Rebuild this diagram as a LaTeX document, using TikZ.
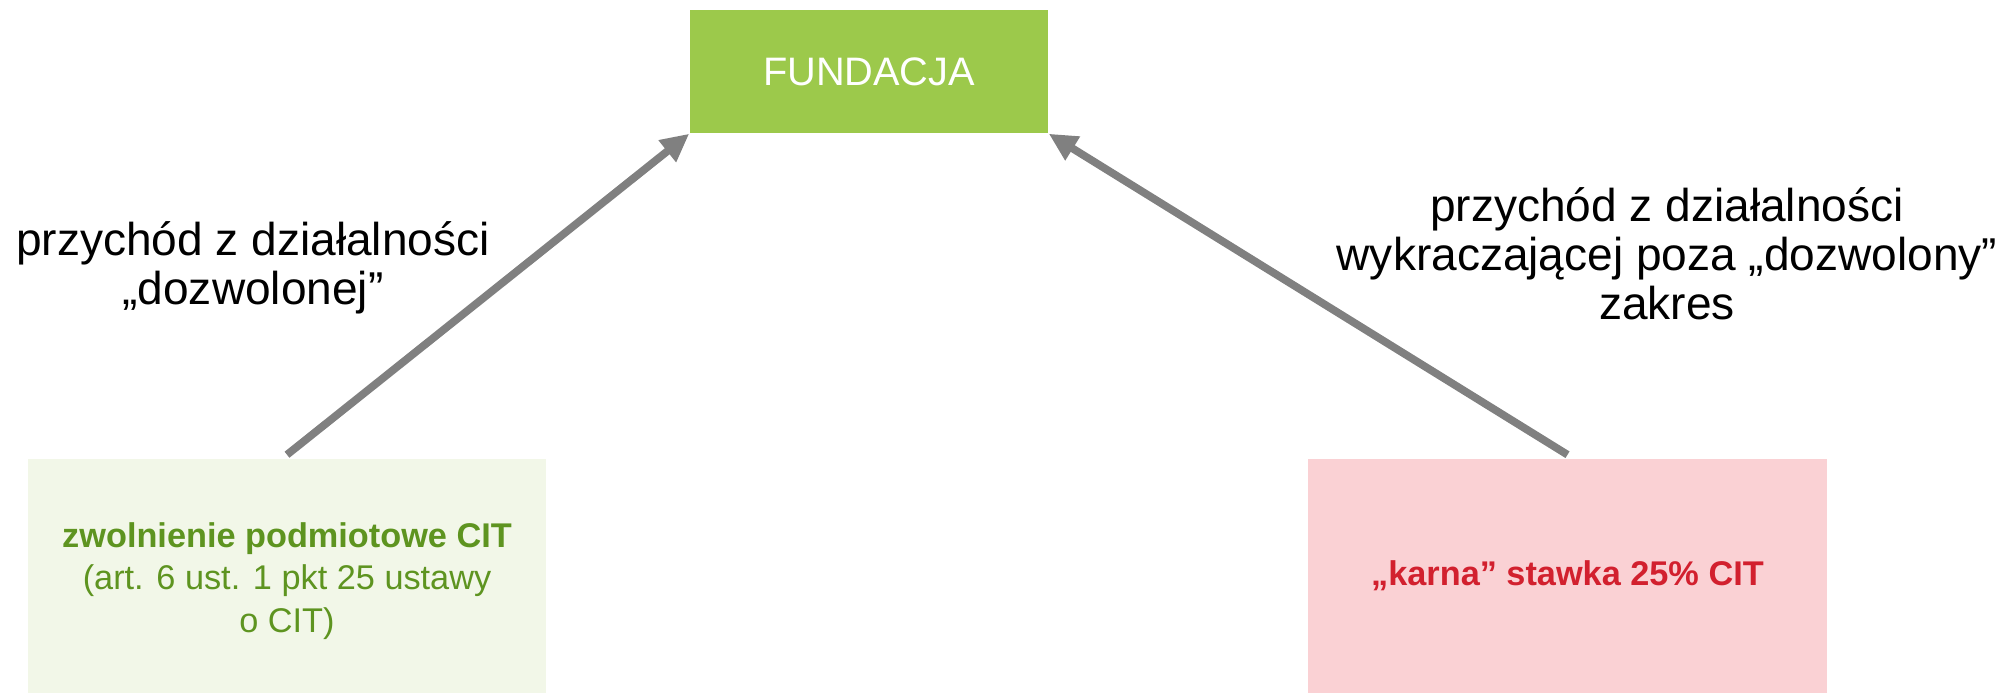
\documentclass[tikz,border=0pt]{standalone}
\usepackage{fontspec}
\setmainfont{Liberation Sans}
\usepackage{tikz}
\usetikzlibrary{
    arrows.meta,
    positioning
}
\usepackage{xcolor}
\definecolor{fundgreen}{HTML}{9CC94B}
\definecolor{zwolfill}{HTML}{F2F7E8}
\definecolor{zwoltext}{HTML}{5E9420}
\definecolor{karnafill}{HTML}{FAD1D4}
\definecolor{karnatext}{HTML}{D2202E}
\definecolor{arrgray}{HTML}{808080}

\begin{document}
\begin{tikzpicture}[
        x=0.01cm, y=-0.01cm,
        >={Triangle[length=8pt, width=7.5pt]},
        box/.style={
            rectangle,
            inner sep=0pt,
            align=center
        },
        opis/.style={
            align=center,
            inner sep=0pt,
            font=\fontsize{13.1}{13.9}\selectfont
        },
        arr/.style={
            ->,
            draw=arrgray,
            fill=arrgray,
            line width=2.2pt
        }
    ]
        \useasboundingbox (0,0) rectangle (1999,693);
        \node[box, fill=fundgreen, minimum width=3.58cm, minimum height=1.23cm,
              text=white, font=\fontsize{11.3}{13}\selectfont] (fund) at (869,71.5) {FUNDACJA};
        \node[box, fill=zwolfill, minimum width=5.18cm, minimum height=2.34cm] (zwol) at (287,576) {};
        \node[box, text=zwoltext, font=\fontsize{9.75}{12.1}\selectfont] (zwoltxt) at (287,581)
              {\textbf{zwolnienie podmiotowe CIT}\\(art. 6 ust. 1 pkt 25 ustawy\\o CIT)};
        \node[box, fill=karnafill, minimum width=5.19cm, minimum height=2.34cm,
              text=karnatext, font=\fontsize{9.75}{11.7}\selectfont\bfseries] (karna) at (1567.5,576)
              {„karna” stawka 25\% CIT};
        \node[opis] (lewy) at (253,268) {przychód z działalności\\„dozwolonej”};
        \node[opis] (prawy) at (1667,254) {przychód z działalności\\wykraczającej poza „dozwolony”\\zakres};
        \draw[arr] ([yshift=1pt]zwol.north) -- (fund.south west);
        \draw[arr] ([yshift=1pt]karna.north) -- (fund.south east);
    \end{tikzpicture}
\end{document}
